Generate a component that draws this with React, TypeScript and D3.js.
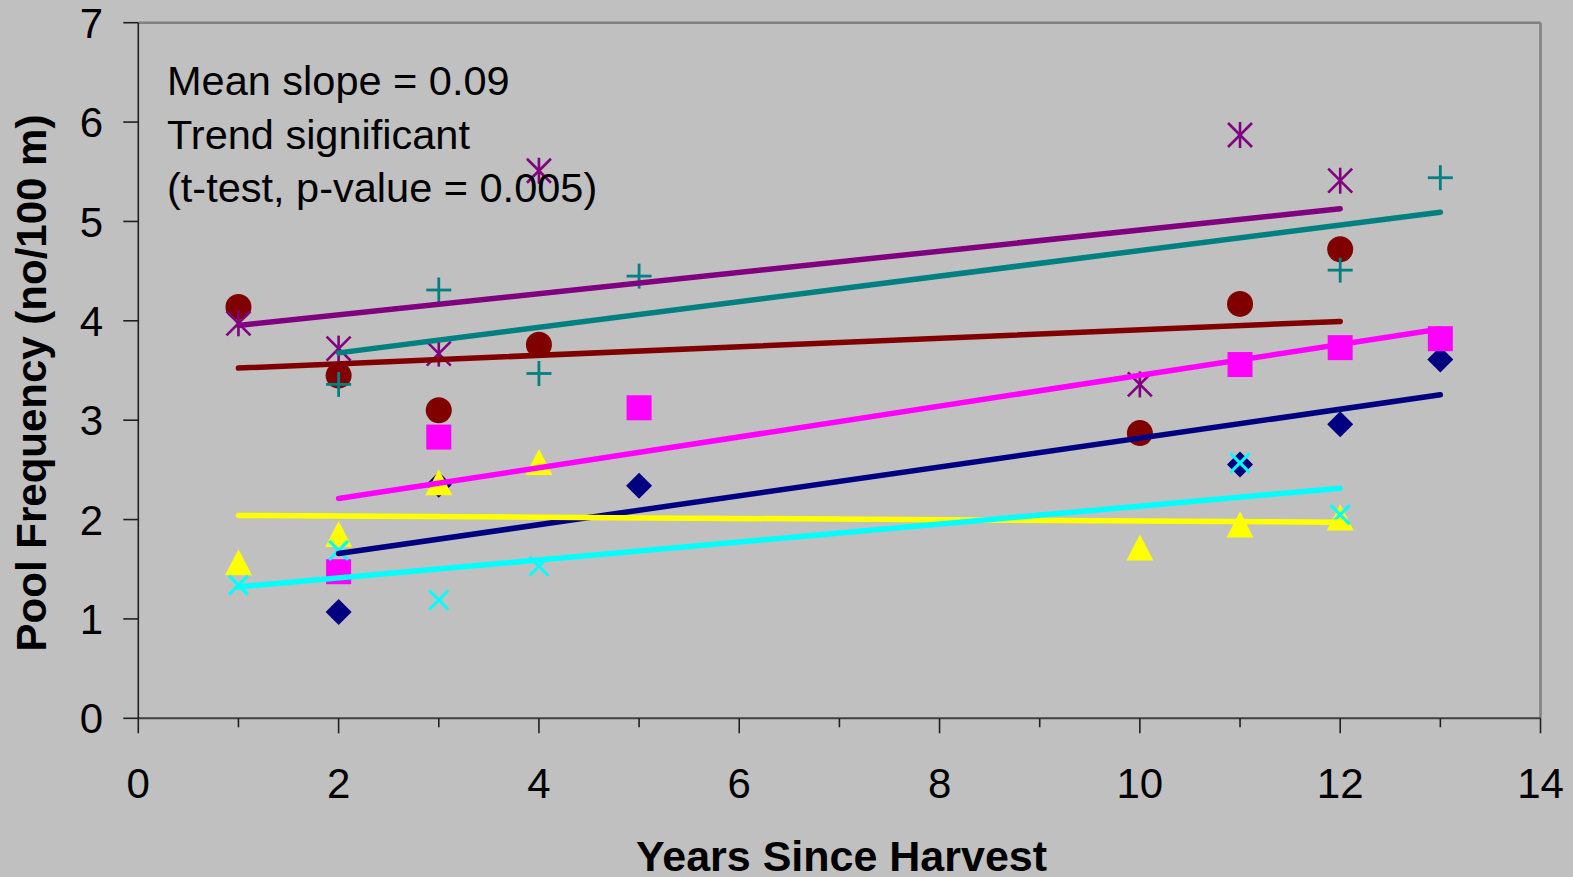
import React from 'react';
import * as d3 from 'd3';

const W = 1573;
const H = 877;

const xTickValues = [0, 2, 4, 6, 8, 10, 12, 14];
const xMinorTickValues = [1, 3, 5, 7, 9, 11, 13];
const yTickValues = [0, 1, 2, 3, 4, 5, 6, 7];

const diamondX = [2, 3, 5, 11, 12, 13];
const diamondY = [1.07, 2.35, 2.34, 2.555, 2.96, 3.61];
const squareX = [2, 3, 5, 11, 12, 13];
const squareY = [1.475, 2.83, 3.125, 3.56, 3.73, 3.82];
const triangleX = [1, 2, 3, 4, 10, 11, 12];
const triangleY = [1.57, 1.855, 2.375, 2.58, 1.72, 1.95, 2.02];
const crossX = [1, 2, 3, 4, 11, 12];
const crossY = [1.34, 1.69, 1.19, 1.53, 2.57, 2.05];
const asteriskX = [1, 2, 3, 4, 10, 11, 12];
const asteriskY = [3.975, 3.72, 3.67, 5.51, 3.36, 5.87, 5.41];
const circleX = [1, 2, 3, 4, 10, 11, 12];
const circleY = [4.14, 3.45, 3.1, 3.76, 2.87, 4.17, 4.72];
const plusX = [2, 3, 4, 5, 12, 13];
const plusY = [3.36, 4.31, 3.47, 4.45, 4.51, 5.44];

const annotation = ['Mean slope = 0.09', 'Trend significant', '(t-test, p-value = 0.005)'];

type Series = { xs: number[]; ys: number[]; color: string; shape: string };

const series: Series[] = [
  { xs: diamondX, ys: diamondY, color: '#000080', shape: 'diamond' },
  { xs: squareX, ys: squareY, color: '#FF00FF', shape: 'square' },
  { xs: triangleX, ys: triangleY, color: '#FFFF00', shape: 'triangle' },
  { xs: crossX, ys: crossY, color: '#00FFFF', shape: 'cross' },
  { xs: circleX, ys: circleY, color: '#800000', shape: 'circle' },
  { xs: asteriskX, ys: asteriskY, color: '#800080', shape: 'asterisk' },
  { xs: plusX, ys: plusY, color: '#008080', shape: 'plus' },
];
const lineOrder = [0, 1, 2, 3, 5, 4, 6];

function regression(xs: number[], ys: number[]) {
  const mx = d3.mean(xs) as number;
  const my = d3.mean(ys) as number;
  const sxy = d3.sum(xs.map((x, i) => (x - mx) * (ys[i] - my)));
  const sxx = d3.sum(xs.map((x) => (x - mx) * (x - mx)));
  const b = sxy / sxx;
  const a = my - b * mx;
  return (x: number) => a + b * x;
}

const FONT = '"Liberation Sans", Arial, Helvetica, sans-serif';

function Marker({ shape, color, cx, cy }: { shape: string; color: string; cx: number; cy: number }) {
  const t = `translate(${cx},${cy})`;
  switch (shape) {
    case 'diamond':
      return <polygon transform={t} points="0,-13 13,0 0,13 -13,0" fill={color} />;
    case 'square':
      return <rect transform={t} x={-12.5} y={-12.5} width={25} height={25} fill={color} />;
    case 'triangle':
      return <polygon transform={t} points="0,-13 13.5,13 -13.5,13" fill={color} />;
    case 'circle':
      return <circle transform={t} r={13} fill={color} />;
    case 'cross':
      return (
        <g transform={t} stroke={color} strokeWidth={3}>
          <line x1={-9.5} y1={-9.5} x2={9.5} y2={9.5} />
          <line x1={-9.5} y1={9.5} x2={9.5} y2={-9.5} />
        </g>
      );
    case 'plus':
      return (
        <g transform={t} stroke={color} strokeWidth={2.8}>
          <line x1={-12.5} y1={0} x2={12.5} y2={0} />
          <line x1={0} y1={-12.5} x2={0} y2={12.5} />
        </g>
      );
    case 'asterisk':
      return (
        <g transform={t} stroke={color} strokeWidth={2.6}>
          <line x1={0} y1={-13} x2={0} y2={13} />
          <line x1={-12} y1={-12} x2={12} y2={12} />
          <line x1={-12} y1={12} x2={12} y2={-12} />
        </g>
      );
    default:
      return null;
  }
}

export default function App() {
  const left = 138.3;
  const right = 1540.5;
  const top = 22.7;
  const bottom = 718.3;
  const x = d3.scaleLinear().domain([0, 14]).range([left, right]);
  const y = d3.scaleLinear().domain([0, 7]).range([bottom, top]);
  const lineGen = d3
    .line<number[]>()
    .x((d) => x(d[0]))
    .y((d) => y(d[1]));

  return (
    <svg
      width={W}
      height={H}
      style={{ position: 'absolute', left: 0, top: 0, display: 'block' }}
      fontFamily={FONT}
    >
      <rect x={0} y={0} width={W} height={H} fill="#C0C0C0" />
      {/* plot frame */}
      <line x1={left} y1={top} x2={right} y2={top} stroke="#808080" strokeWidth={2.5} />
      <line x1={right} y1={top} x2={right} y2={bottom} stroke="#808080" strokeWidth={2.5} />
      <line x1={left} y1={bottom} x2={right} y2={bottom} stroke="#404040" strokeWidth={2} />
      <line x1={left} y1={top} x2={left} y2={bottom} stroke="#202020" strokeWidth={1.6} />

      {/* y ticks */}
      {yTickValues.map((v) => (
        <g key={'yt' + v}>
          <line x1={left - 15} x2={left} y1={y(v)} y2={y(v)} stroke="#202020" strokeWidth={1.6} />
          <text x={103} y={y(v)} dy="0.36em" textAnchor="end" fontSize={42} fill="#000">
            {v}
          </text>
        </g>
      ))}
      {/* x ticks */}
      {xTickValues.map((v) => (
        <g key={'xt' + v}>
          <line x1={x(v)} x2={x(v)} y1={bottom} y2={bottom + 15} stroke="#202020" strokeWidth={1.6} />
          <text x={x(v)} y={798} textAnchor="middle" fontSize={42} fill="#000">
            {v}
          </text>
        </g>
      ))}
      {xMinorTickValues.map((v) => (
        <line key={'xm' + v} x1={x(v)} x2={x(v)} y1={bottom} y2={bottom + 9} stroke="#202020" strokeWidth={1.6} />
      ))}

      {/* markers */}
      {series.map((s, si) =>
        s.xs.map((xv, i) => (
          <Marker key={`m${si}-${i}`} shape={s.shape} color={s.color} cx={x(xv)} cy={y(s.ys[i])} />
        ))
      )}

      {/* trend lines */}
      {lineOrder.map((si) => {
        const s = series[si];
        const f = regression(s.xs, s.ys);
        const x0 = d3.min(s.xs) as number;
        const x1 = d3.max(s.xs) as number;
        return (
          <path
            key={'tl' + si}
            d={lineGen([
              [x0, f(x0)],
              [x1, f(x1)],
            ]) as string}
            fill="none"
            stroke={s.color}
            strokeWidth={5.5}
            strokeLinecap="round"
          />
        );
      })}

      {/* annotation */}
      {annotation.map((t, i) => (
        <text key={'an' + i} x={167} y={95 + i * 53.5} fontSize={41.5} fill="#000">
          {t}
        </text>
      ))}

      {/* axis titles */}
      <text
        transform={`translate(46,${383}) rotate(-90)`}
        textAnchor="middle"
        fontSize={42}
        fontWeight="bold"
        fill="#000"
      >
        Pool Frequency (no/100 m)
      </text>
      <text x={841.5} y={871} textAnchor="middle" fontSize={43} fontWeight="bold" fill="#000">
        Years Since Harvest
      </text>
    </svg>
  );
}
